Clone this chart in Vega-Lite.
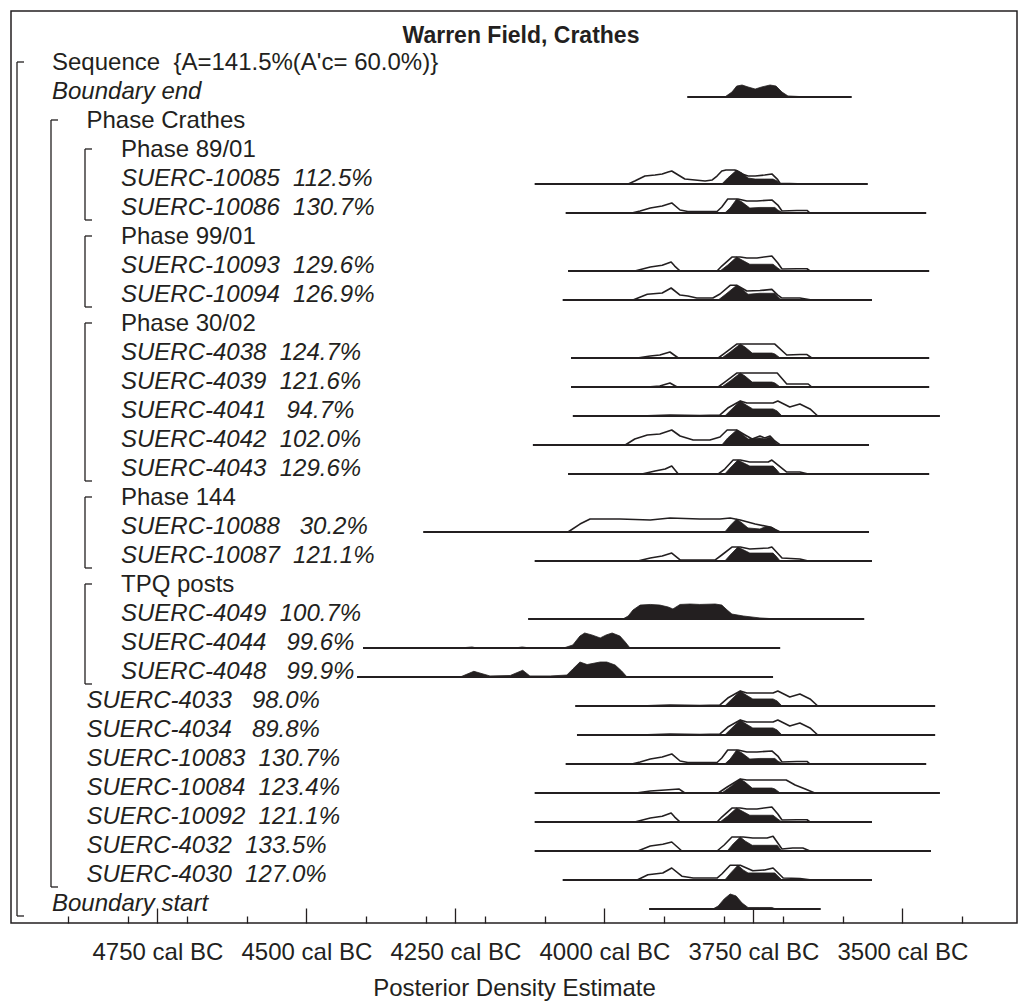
{
  "$schema": "https://vega.github.io/schema/vega-lite/v6.json",
  "width": 1006,
  "height": 912,
  "autosize": "none",
  "padding": {"left": 11, "top": 11, "right": 1, "bottom": 80},
  "background": "white",
  "config": {"view": {"stroke": "#231f20", "strokeWidth": 1.5}, "font": "Liberation Sans"},
  "title": {"text": "Warren Field, Crathes", "font": "Liberation Sans", "fontSize": 23, "fontWeight": "bold", "color": "#231f20", "anchor": "middle", "frame": "group", "offset": -30, "baseline": "alphabetic", "dx": 7, "dy": 25},
  "datasets": {
    "dist": [
      {"r": 1, "k": "po", "x": [3798,3786,3778,3769,3759,3747,3736,3722,3712,3702,3692,3672,3655], "d": [0,0.33,0.73,0.8,0.67,0.53,0.67,0.8,0.73,0.33,0.07,0.03,0]},
      {"r": 4, "k": "pr", "x": [3960,3949,3932,3915,3903,3893,3887,3876,3865,3848,3831,3819,3811,3803,3796,3781,3769,3759,3747,3731,3719,3710,3705,3689,3663], "d": [0,0.2,0.53,0.6,0.67,0.8,0.87,0.6,0.33,0.27,0.2,0.27,0.53,0.87,0.93,0.93,0.67,0.53,0.53,0.6,0.67,0.33,0.03,0.03,0]},
      {"r": 4, "k": "po", "x": [3803,3793,3778,3769,3759,3747,3731,3717,3710,3705], "d": [0,0.4,0.93,0.73,0.4,0.33,0.33,0.33,0.2,0]},
      {"r": 5, "k": "pr", "x": [3954,3940,3923,3903,3887,3873,3860,3811,3803,3793,3776,3761,3744,3719,3709,3702,3677,3660,3655], "d": [0,0.13,0.33,0.47,0.67,0.2,0.1,0.1,0.4,0.93,0.93,0.8,0.8,0.87,0.53,0.13,0.17,0.17,0]},
      {"r": 5, "k": "po", "x": [3798,3789,3778,3769,3756,3739,3714,3709,3700], "d": [0,0.33,0.93,0.73,0.33,0.37,0.37,0.2,0]},
      {"r": 7, "k": "pr", "x": [3949,3923,3903,3888,3882,3873,3811,3803,3786,3772,3761,3744,3719,3709,3702,3677,3660,3655], "d": [0,0.27,0.38,0.6,0.33,0,0,0.33,0.93,0.93,0.87,0.87,1,0.53,0.13,0.15,0.15,0]},
      {"r": 7, "k": "po", "x": [3806,3793,3778,3769,3756,3739,3717,3709,3702], "d": [0,0.4,0.93,0.73,0.45,0.45,0.45,0.2,0]},
      {"r": 8, "k": "pr", "x": [3952,3928,3903,3888,3873,3860,3845,3818,3806,3789,3778,3761,3739,3719,3709,3702,3672,3652], "d": [0,0.38,0.47,0.8,0.33,0.27,0.13,0.13,0.4,0.98,0.98,0.6,0.63,0.71,0.33,0.13,0.13,0]},
      {"r": 8, "k": "po", "x": [3809,3796,3778,3769,3759,3739,3714,3709,3702], "d": [0,0.4,0.98,0.73,0.38,0.45,0.45,0.2,0]},
      {"r": 10, "k": "pr", "x": [3945,3923,3907,3890,3876,3809,3798,3778,3739,3714,3694,3672,3660,3652], "d": [0,0.13,0.2,0.4,0,0,0.33,0.93,0.93,0.93,0.2,0.23,0.23,0]},
      {"r": 10, "k": "po", "x": [3803,3789,3772,3764,3752,3719,3714,3705], "d": [0,0.4,0.93,0.73,0.33,0.33,0.27,0]},
      {"r": 11, "k": "pr", "x": [3928,3907,3890,3878,3809,3798,3778,3739,3710,3694,3672,3658,3652], "d": [0,0.07,0.27,0,0,0.33,0.93,0.93,0.93,0.2,0.2,0.2,0]},
      {"r": 11, "k": "po", "x": [3803,3789,3772,3764,3752,3719,3714,3705], "d": [0,0.4,0.93,0.73,0.33,0.33,0.27,0]},
      {"r": 12, "k": "pr", "x": [3940,3890,3840,3806,3793,3772,3761,3717,3709,3689,3672,3655,3642], "d": [0,0.07,0.03,0.07,0.53,1,0.87,0.87,1,0.6,0.8,0.47,0]},
      {"r": 12, "k": "po", "x": [3798,3786,3772,3762,3751,3717,3710,3702], "d": [0,0.47,1,0.73,0.47,0.47,0.33,0]},
      {"r": 13, "k": "pr", "x": [3965,3949,3928,3907,3887,3873,3851,3823,3806,3794,3778,3764,3752,3739,3731,3722,3714,3705], "d": [0,0.4,0.67,0.73,1,0.6,0.33,0.33,0.53,1,1,0.67,0.4,0.6,0.47,0.6,0.27,0]},
      {"r": 13, "k": "po", "x": [3803,3793,3778,3769,3759,3739,3731,3722,3714,3709], "d": [0,0.47,1,0.73,0.4,0.47,0.4,0.53,0.27,0]},
      {"r": 14, "k": "pr", "x": [3937,3915,3898,3887,3876,3809,3798,3784,3772,3756,3725,3719,3694,3672,3658], "d": [0,0.2,0.33,0.53,0,0,0.33,0.93,0.93,0.8,0.8,0.93,0.13,0.13,0]},
      {"r": 14, "k": "po", "x": [3798,3789,3776,3766,3756,3717,3712,3705], "d": [0,0.4,0.93,0.73,0.53,0.53,0.33,0]},
      {"r": 16, "k": "pr", "x": [4061,4041,4024,3974,3923,3890,3840,3806,3789,3772,3747,3722,3705], "d": [0,0.53,0.87,0.87,0.8,0.93,0.87,0.87,0.93,0.8,0.53,0.33,0]},
      {"r": 16, "k": "po", "x": [3798,3788,3778,3769,3759,3739,3731,3719,3712,3705], "d": [0,0.47,0.87,0.6,0.27,0.2,0.33,0.33,0.13,0]},
      {"r": 17, "k": "pr", "x": [3944,3923,3903,3887,3873,3814,3803,3786,3772,3756,3725,3719,3702,3672,3658], "d": [0,0.2,0.33,0.53,0.07,0.07,0.4,0.93,0.93,0.8,0.87,0.93,0.2,0.13,0]},
      {"r": 17, "k": "po", "x": [3798,3789,3776,3766,3756,3717,3712,3705], "d": [0,0.4,0.93,0.73,0.53,0.53,0.33,0]},
      {"r": 19, "k": "po", "x": [3969,3960,3952,3940,3923,3907,3893,3885,3873,3856,3840,3814,3803,3794,3786,3767,3739,3710], "d": [0,0.2,0.6,0.93,0.97,0.93,0.8,0.67,0.97,1,0.97,1,0.93,0.6,0.33,0.2,0.07,0]},
      {"r": 20, "k": "po", "x": [4242,4222,4214,4150,4138,4125,4066,4053,4041,4033,4021,4007,3997,3987,3974,3965,3957], "d": [0,0.07,0,0,0.07,0,0.03,0.2,0.8,1,0.87,0.67,0.87,1,0.8,0.4,0]},
      {"r": 21, "k": "po", "x": [4242,4219,4192,4158,4137,4125,4091,4063,4053,4041,4029,4007,3996,3982,3971,3962], "d": [0,0.38,0.07,0.1,0.45,0.07,0.07,0.13,0.53,1,0.83,1,1,0.8,0.4,0]},
      {"r": 22, "k": "pr", "x": [3940,3890,3840,3806,3793,3772,3761,3717,3709,3689,3672,3655,3642], "d": [0,0.07,0.03,0.07,0.53,1,0.87,0.87,1,0.6,0.8,0.47,0]},
      {"r": 22, "k": "po", "x": [3798,3786,3772,3762,3751,3717,3710,3702], "d": [0,0.47,1,0.73,0.47,0.47,0.33,0]},
      {"r": 23, "k": "pr", "x": [3940,3890,3840,3806,3793,3772,3761,3717,3709,3689,3672,3655,3642], "d": [0,0.07,0.03,0.07,0.53,1,0.87,0.87,1,0.6,0.8,0.47,0]},
      {"r": 23, "k": "po", "x": [3798,3786,3772,3762,3751,3717,3710,3702], "d": [0,0.47,1,0.73,0.47,0.47,0.33,0]},
      {"r": 24, "k": "pr", "x": [3954,3940,3923,3903,3887,3873,3860,3811,3803,3793,3776,3761,3744,3719,3709,3702,3677,3660,3655], "d": [0,0.13,0.33,0.47,0.67,0.2,0.1,0.1,0.4,0.93,0.93,0.8,0.8,0.87,0.53,0.13,0.17,0.17,0]},
      {"r": 24, "k": "po", "x": [3798,3789,3778,3769,3756,3739,3714,3709,3700], "d": [0,0.33,0.93,0.73,0.33,0.37,0.37,0.2,0]},
      {"r": 25, "k": "pr", "x": [3947,3923,3898,3875,3865,3809,3794,3772,3761,3695,3680,3663,3647], "d": [0,0.13,0.2,0.27,0,0,0.4,0.93,0.87,0.87,0.53,0.27,0]},
      {"r": 25, "k": "po", "x": [3803,3789,3772,3764,3752,3719,3714,3705], "d": [0,0.4,0.93,0.73,0.33,0.33,0.27,0]},
      {"r": 26, "k": "pr", "x": [3949,3923,3903,3888,3882,3873,3811,3803,3786,3772,3761,3744,3719,3709,3702,3677,3660,3655], "d": [0,0.27,0.38,0.6,0.33,0,0,0.33,0.93,0.93,0.87,0.87,1,0.53,0.13,0.15,0.15,0]},
      {"r": 26, "k": "po", "x": [3806,3793,3778,3769,3756,3739,3717,3709,3702], "d": [0,0.4,0.93,0.73,0.45,0.45,0.45,0.2,0]},
      {"r": 27, "k": "pr", "x": [3944,3923,3902,3887,3870,3811,3799,3786,3767,3751,3727,3717,3702,3684,3667,3655], "d": [0,0.33,0.45,0.6,0,0,0.4,0.93,0.93,0.87,0.87,0.98,0.13,0.2,0.2,0]},
      {"r": 27, "k": "po", "x": [3794,3784,3772,3764,3752,3710,3705,3702], "d": [0,0.47,0.93,0.67,0.38,0.38,0.13,0]},
      {"r": 28, "k": "pr", "x": [3945,3927,3902,3887,3870,3851,3811,3803,3789,3772,3751,3731,3717,3700,3672,3652], "d": [0,0.35,0.47,0.8,0.25,0.13,0.13,0.4,0.98,0.98,0.62,0.67,0.8,0.13,0.1,0]},
      {"r": 28, "k": "po", "x": [3798,3788,3776,3767,3759,3714,3709,3702], "d": [0,0.47,0.98,0.67,0.47,0.47,0.27,0]},
      {"r": 29, "k": "po", "x": [3818,3809,3799,3789,3779,3769,3759,3739,3719,3712], "d": [0,0.2,0.67,1,0.87,0.4,0.1,0.1,0.1,0]}
    ],
    "rng": [
      {"r": 1, "a": 3861, "b": 3585}, {"r": 4, "a": 4117, "b": 3558}, {"r": 5, "a": 4065, "b": 3460},
      {"r": 7, "a": 4061, "b": 3455}, {"r": 8, "a": 4070, "b": 3551}, {"r": 10, "a": 4056, "b": 3455},
      {"r": 11, "a": 4056, "b": 3455}, {"r": 12, "a": 4053, "b": 3437}, {"r": 13, "a": 4120, "b": 3556},
      {"r": 14, "a": 4061, "b": 3455}, {"r": 16, "a": 4304, "b": 3556}, {"r": 17, "a": 4117, "b": 3551},
      {"r": 19, "a": 4128, "b": 3564}, {"r": 20, "a": 4405, "b": 3705}, {"r": 21, "a": 4415, "b": 3717},
      {"r": 22, "a": 4049, "b": 3445}, {"r": 23, "a": 4046, "b": 3445}, {"r": 24, "a": 4065, "b": 3460},
      {"r": 25, "a": 4117, "b": 3437}, {"r": 26, "a": 4117, "b": 3551}, {"r": 27, "a": 4117, "b": 3452},
      {"r": 28, "a": 4070, "b": 3551}, {"r": 29, "a": 3925, "b": 3637}
    ],
    "lab": [
      {"r": 0, "t": "Sequence\u00a0\u00a0{A=141.5%(A'c=\u00a060.0%)}", "lv": 0, "it": 0},
      {"r": 1, "t": "Boundary end", "lv": 0, "it": 1},
      {"r": 2, "t": "Phase Crathes", "lv": 1, "it": 0},
      {"r": 3, "t": "Phase 89/01", "lv": 2, "it": 0},
      {"r": 4, "t": "SUERC-10085\u00a0\u00a0112.5%", "lv": 2, "it": 1},
      {"r": 5, "t": "SUERC-10086\u00a0\u00a0130.7%", "lv": 2, "it": 1},
      {"r": 6, "t": "Phase 99/01", "lv": 2, "it": 0},
      {"r": 7, "t": "SUERC-10093\u00a0\u00a0129.6%", "lv": 2, "it": 1},
      {"r": 8, "t": "SUERC-10094\u00a0\u00a0126.9%", "lv": 2, "it": 1},
      {"r": 9, "t": "Phase 30/02", "lv": 2, "it": 0},
      {"r": 10, "t": "SUERC-4038\u00a0\u00a0124.7%", "lv": 2, "it": 1},
      {"r": 11, "t": "SUERC-4039\u00a0\u00a0121.6%", "lv": 2, "it": 1},
      {"r": 12, "t": "SUERC-4041\u00a0\u00a0\u00a094.7%", "lv": 2, "it": 1},
      {"r": 13, "t": "SUERC-4042\u00a0\u00a0102.0%", "lv": 2, "it": 1},
      {"r": 14, "t": "SUERC-4043\u00a0\u00a0129.6%", "lv": 2, "it": 1},
      {"r": 15, "t": "Phase 144", "lv": 2, "it": 0},
      {"r": 16, "t": "SUERC-10088\u00a0\u00a0\u00a030.2%", "lv": 2, "it": 1},
      {"r": 17, "t": "SUERC-10087\u00a0\u00a0121.1%", "lv": 2, "it": 1},
      {"r": 18, "t": "TPQ posts", "lv": 2, "it": 0},
      {"r": 19, "t": "SUERC-4049\u00a0\u00a0100.7%", "lv": 2, "it": 1},
      {"r": 20, "t": "SUERC-4044\u00a0\u00a0\u00a099.6%", "lv": 2, "it": 1},
      {"r": 21, "t": "SUERC-4048\u00a0\u00a0\u00a099.9%", "lv": 2, "it": 1},
      {"r": 22, "t": "SUERC-4033\u00a0\u00a0\u00a098.0%", "lv": 1, "it": 1},
      {"r": 23, "t": "SUERC-4034\u00a0\u00a0\u00a089.8%", "lv": 1, "it": 1},
      {"r": 24, "t": "SUERC-10083\u00a0\u00a0130.7%", "lv": 1, "it": 1},
      {"r": 25, "t": "SUERC-10084\u00a0\u00a0123.4%", "lv": 1, "it": 1},
      {"r": 26, "t": "SUERC-10092\u00a0\u00a0121.1%", "lv": 1, "it": 1},
      {"r": 27, "t": "SUERC-4032\u00a0\u00a0133.5%", "lv": 1, "it": 1},
      {"r": 28, "t": "SUERC-4030\u00a0\u00a0127.0%", "lv": 1, "it": 1},
      {"r": 29, "t": "Boundary start", "lv": 0, "it": 1}
    ],
    "grp": [
      {"g": "Sequence", "lv": 0, "r0": 0, "r1": 29},
      {"g": "Phase Crathes", "lv": 1, "r0": 2, "r1": 28},
      {"g": "Phase 89/01", "lv": 2, "r0": 3, "r1": 5},
      {"g": "Phase 99/01", "lv": 2, "r0": 6, "r1": 8},
      {"g": "Phase 30/02", "lv": 2, "r0": 9, "r1": 14},
      {"g": "Phase 144", "lv": 2, "r0": 15, "r1": 17},
      {"g": "TPQ posts", "lv": 2, "r0": 18, "r1": 21}
    ]
  },
  "layer": [
    {
      "layer": [
        {
          "data": {"name": "dist"},
          "transform": [{"filter": "datum.k === 'pr'"}, {"flatten": ["x", "d"]}, {"calculate": "datum.r - datum.d * 0.517", "as": "top"}],
          "mark": {"type": "area", "fill": "white", "stroke": "#231f20", "strokeWidth": 1.6, "strokeJoin": "round"},
          "encoding": {
            "x": {"field": "x", "type": "quantitative", "scale": {"domain": [3307.7, 4995.6], "reverse": true, "nice": false, "zero": false},
              "axis": {"values": [4900,4800,4750,4700,4600,4500,4400,4300,4250,4200,4100,4000,3900,3800,3750,3700,3600,3500,3400], "labelExpr": "datum.value % 250 === 0 ? datum.value + ' cal BC' : ''", "tickSize": {"condition": {"test": "datum.value % 250 === 0", "value": -15}, "value": -7}, "domain": false, "grid": false, "tickColor": "#231f20", "tickWidth": 1.3, "labelFont": "Liberation Sans", "labelFontSize": 24, "labelColor": "#231f20", "labelPadding": 32, "labelOverlap": false, "labelFlush": false, "labelBound": false, "title": "Posterior Density Estimate", "titleFont": "Liberation Sans", "titleFontSize": 24, "titleFontWeight": "normal", "titleColor": "#231f20", "titlePadding": 4}},
            "y": {"field": "top", "type": "quantitative", "scale": {"domain": [-1.9655, 29.483], "reverse": true, "nice": false, "zero": false}, "axis": null},
            "y2": {"field": "r"},
            "detail": {"field": "r", "type": "nominal"}
          }
        },
        {
          "data": {"name": "dist"},
          "transform": [{"filter": "datum.k === 'po'"}, {"flatten": ["x", "d"]}, {"calculate": "datum.r - datum.d * 0.517", "as": "top"}],
          "mark": {"type": "area", "fill": "#231f20", "stroke": "#231f20", "strokeWidth": 0.8},
          "encoding": {
            "x": {"field": "x", "type": "quantitative", "scale": {"domain": [3307.7, 4995.6], "reverse": true, "nice": false, "zero": false},
              "axis": {"values": [4900,4800,4750,4700,4600,4500,4400,4300,4250,4200,4100,4000,3900,3800,3750,3700,3600,3500,3400], "labelExpr": "datum.value % 250 === 0 ? datum.value + ' cal BC' : ''", "tickSize": {"condition": {"test": "datum.value % 250 === 0", "value": -15}, "value": -7}, "domain": false, "grid": false, "tickColor": "#231f20", "tickWidth": 1.3, "labelFont": "Liberation Sans", "labelFontSize": 24, "labelColor": "#231f20", "labelPadding": 32, "labelOverlap": false, "labelFlush": false, "labelBound": false, "title": "Posterior Density Estimate", "titleFont": "Liberation Sans", "titleFontSize": 24, "titleFontWeight": "normal", "titleColor": "#231f20", "titlePadding": 4}},
            "y": {"field": "top", "type": "quantitative", "scale": {"domain": [-1.9655, 29.483], "reverse": true, "nice": false, "zero": false}, "axis": null},
            "y2": {"field": "r"},
            "detail": {"field": "r", "type": "nominal"}
          }
        },
        {
          "data": {"name": "rng"},
          "mark": {"type": "rule", "stroke": "#231f20", "strokeWidth": 2},
          "encoding": {
            "x": {"field": "a", "type": "quantitative", "scale": {"domain": [3307.7, 4995.6], "reverse": true, "nice": false, "zero": false},
              "axis": {"values": [4900,4800,4750,4700,4600,4500,4400,4300,4250,4200,4100,4000,3900,3800,3750,3700,3600,3500,3400], "labelExpr": "datum.value % 250 === 0 ? datum.value + ' cal BC' : ''", "tickSize": {"condition": {"test": "datum.value % 250 === 0", "value": -15}, "value": -7}, "domain": false, "grid": false, "tickColor": "#231f20", "tickWidth": 1.3, "labelFont": "Liberation Sans", "labelFontSize": 24, "labelColor": "#231f20", "labelPadding": 32, "labelOverlap": false, "labelFlush": false, "labelBound": false, "title": "Posterior Density Estimate", "titleFont": "Liberation Sans", "titleFontSize": 24, "titleFontWeight": "normal", "titleColor": "#231f20", "titlePadding": 4}},
            "x2": {"field": "b"},
            "y": {"field": "r", "type": "quantitative", "scale": {"domain": [-1.9655, 29.483], "reverse": true, "nice": false, "zero": false}, "axis": null}
          }
        }
      ]
    },
    {
      "layer": [
        {
          "data": {"name": "lab"},
          "transform": [{"filter": "datum.it === 0"}],
          "mark": {"type": "text", "align": "left", "baseline": "alphabetic", "dy": 2.5, "fontSize": 24, "font": "Liberation Sans", "color": "#231f20"},
          "encoding": {
            "x": {"field": "lv", "type": "quantitative", "scale": {"domain": [-1.1884, 27.971], "nice": false, "zero": false}, "axis": null},
            "y": {"field": "r", "type": "quantitative", "scale": {"domain": [-1.9655, 29.483], "reverse": true, "nice": false, "zero": false}, "axis": null},
            "text": {"field": "t"}
          }
        },
        {
          "data": {"name": "lab"},
          "transform": [{"filter": "datum.it === 1"}],
          "mark": {"type": "text", "align": "left", "baseline": "alphabetic", "dy": 2.5, "fontSize": 24, "fontStyle": "italic", "font": "Liberation Sans", "color": "#231f20"},
          "encoding": {
            "x": {"field": "lv", "type": "quantitative", "scale": {"domain": [-1.1884, 27.971], "nice": false, "zero": false}, "axis": null},
            "y": {"field": "r", "type": "quantitative", "scale": {"domain": [-1.9655, 29.483], "reverse": true, "nice": false, "zero": false}, "axis": null},
            "text": {"field": "t"}
          }
        }
      ]
    },
    {
      "layer": [
        {
          "data": {"name": "grp"},
          "mark": {"type": "rule", "stroke": "#231f20", "strokeWidth": 1.3, "yOffset": -6, "y2Offset": 7},
          "encoding": {
            "x": {"field": "lv", "type": "quantitative", "scale": {"domain": [-0.17647, 29.4118], "nice": false, "zero": false}, "axis": null},
            "y": {"field": "r0", "type": "quantitative", "scale": {"domain": [-1.9655, 29.483], "reverse": true, "nice": false, "zero": false}, "axis": null},
            "y2": {"field": "r1"}
          }
        },
        {
          "data": {"name": "grp"},
          "mark": {"type": "rule", "stroke": "#231f20", "strokeWidth": 1.3, "yOffset": -6, "x2Offset": 7},
          "encoding": {
            "x": {"field": "lv", "type": "quantitative", "scale": {"domain": [-0.17647, 29.4118], "nice": false, "zero": false}, "axis": null},
            "x2": {"field": "lv"},
            "y": {"field": "r0", "type": "quantitative", "scale": {"domain": [-1.9655, 29.483], "reverse": true, "nice": false, "zero": false}, "axis": null}
          }
        },
        {
          "data": {"name": "grp"},
          "mark": {"type": "rule", "stroke": "#231f20", "strokeWidth": 1.3, "yOffset": 7, "x2Offset": 7},
          "encoding": {
            "x": {"field": "lv", "type": "quantitative", "scale": {"domain": [-0.17647, 29.4118], "nice": false, "zero": false}, "axis": null},
            "x2": {"field": "lv"},
            "y": {"field": "r1", "type": "quantitative", "scale": {"domain": [-1.9655, 29.483], "reverse": true, "nice": false, "zero": false}, "axis": null}
          }
        }
      ]
    }
  ],
  "resolve": {"scale": {"x": "independent"}, "axis": {"x": "independent"}}
}
